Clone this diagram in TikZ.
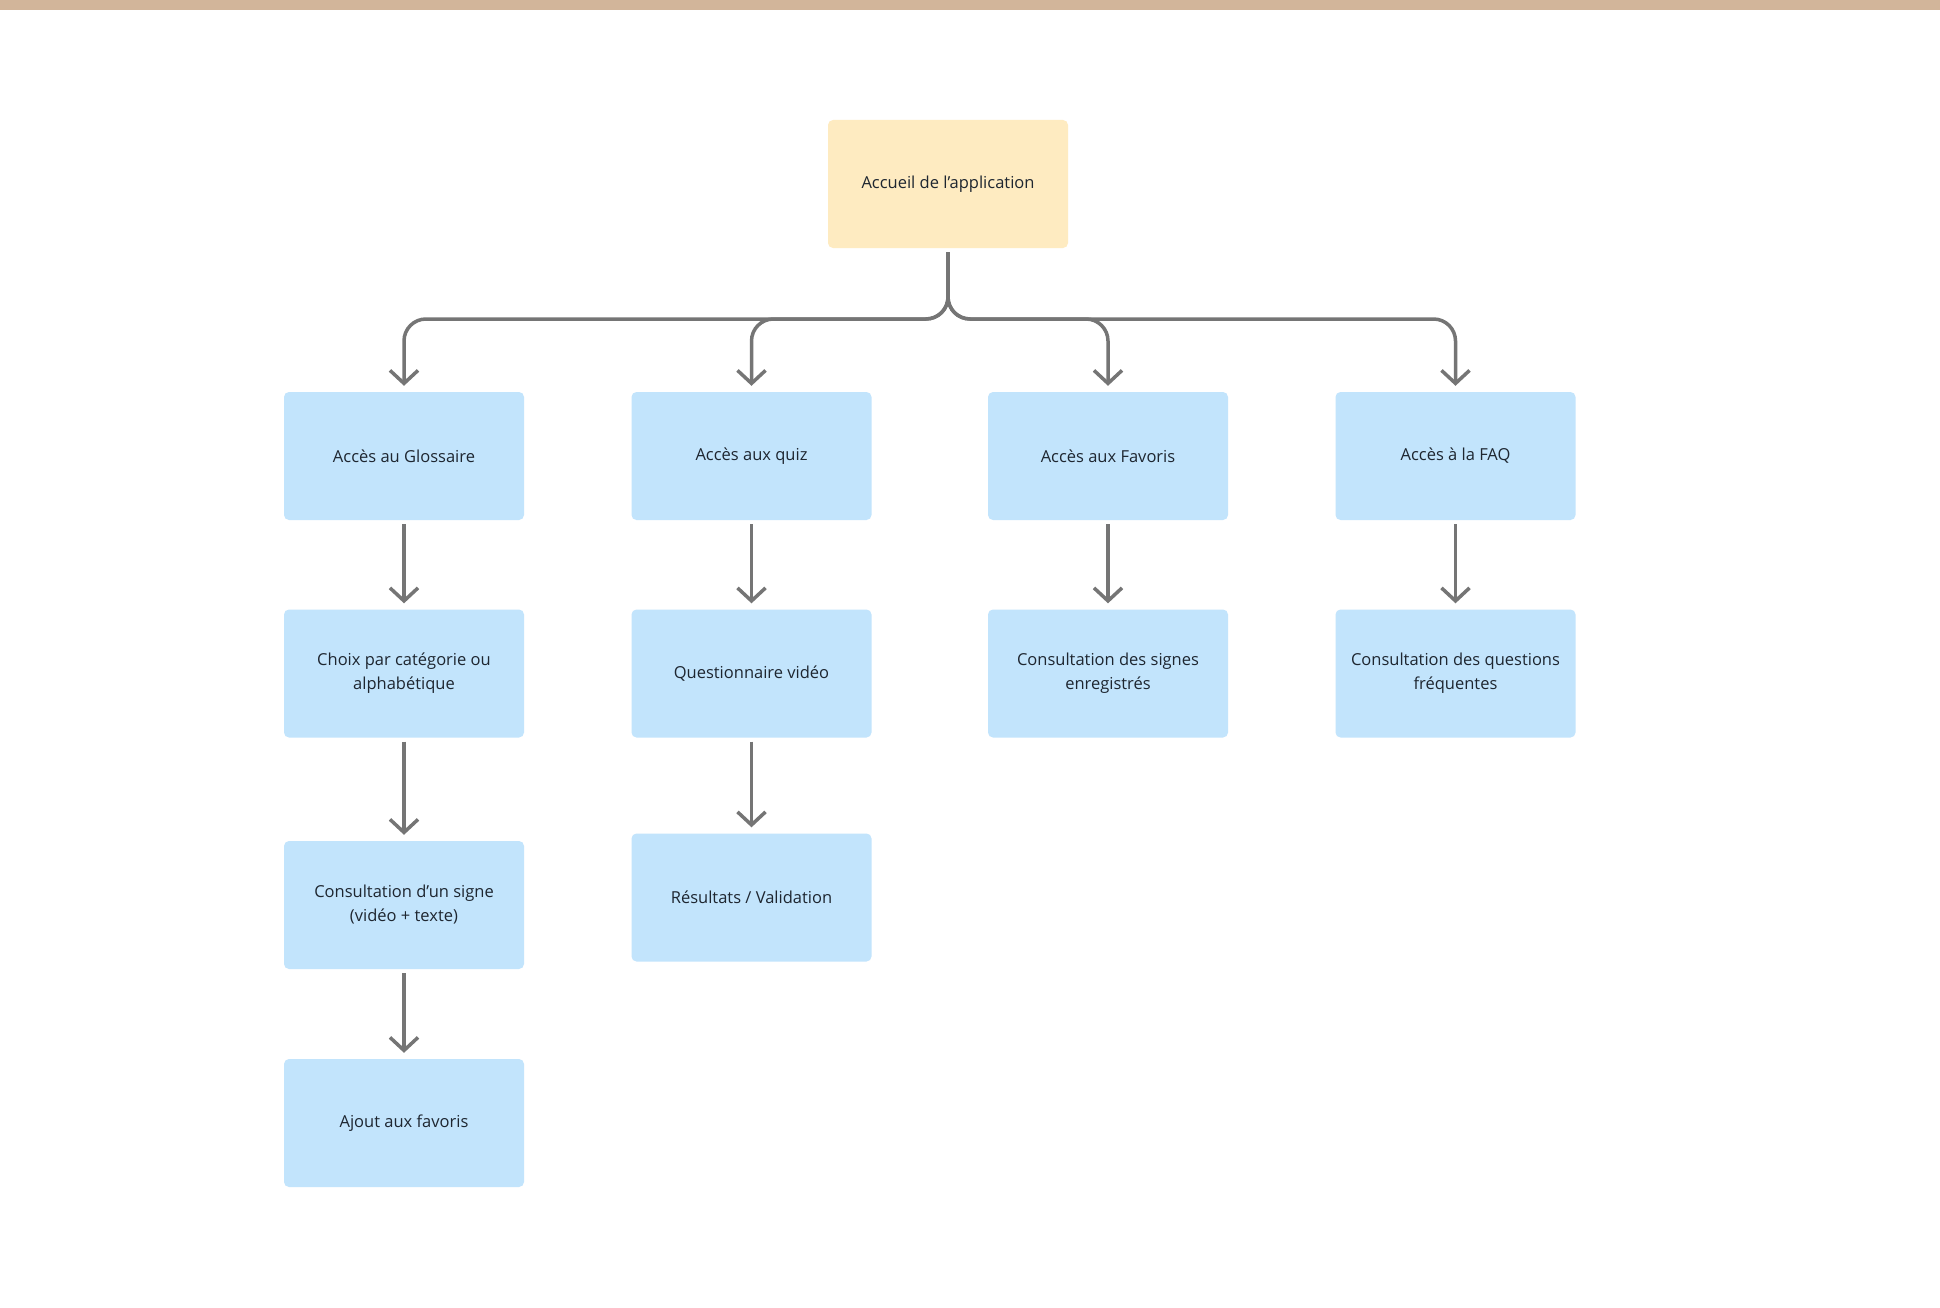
\documentclass[tikz,border=0pt]{standalone}
\usepackage{fontspec}
\setmainfont{Open Sans}
\usetikzlibrary{arrows.meta}
\definecolor{barre}{RGB}{210,181,154}
\definecolor{jaune}{RGB}{254,235,193}
\definecolor{bleu}{RGB}{194,228,252}
\definecolor{fleche}{RGB}{117,117,117}
\definecolor{texte}{RGB}{30,38,48}

\begin{document}
\begin{tikzpicture}[x=1pt,y=-1pt,
    boite/.style={rounded corners=5pt,fill=bleu,minimum width=240pt,minimum height=128pt,
      align=center,text=texte,font=\fontsize{16.5}{24}\selectfont},
    accueil/.style={boite,fill=jaune},
    lien/.style={draw=fleche,line width=3.5pt,rounded corners=22pt,shorten <=4pt,shorten >=6pt,
      -{Straight Barb[length=13pt,width=28pt]}}]
  \useasboundingbox (0,0) rectangle (1940,1308);
  \fill[white] (0,0) rectangle (1940,1308);
  \fill[barre] (0,0) rectangle (1940,10);

  % racine
  \node[accueil] (root) at (948,184) {Accueil de l’application};
  \coordinate (bus) at (948,319);

  % premier niveau
  \node[boite] (gl) at (404,456) {Accès au Glossaire};
  \node[boite] (quiz) at (751.5,456) {Accès aux quiz};
  \node[boite] (fav) at (1108,456) {Accès aux Favoris};
  \node[boite] (faq) at (1455.5,456) {Accès à la FAQ};

  % deuxieme niveau
  \node[boite] (cat) at (404,673.5) {Choix par catégorie ou\\alphabétique};
  \node[boite] (qv) at (751.5,673.5) {Questionnaire vidéo};
  \node[boite] (sig) at (1108,673.5) {Consultation des signes\\enregistrés};
  \node[boite] (qf) at (1455.5,673.5) {Consultation des questions\\fréquentes};

  % suite
  \node[boite] (cons) at (404,905) {Consultation d’un signe\\(vidéo + texte)};
  \node[boite] (res) at (751.5,897.5) {Résultats / Validation};
  \node[boite] (ajout) at (404,1123) {Ajout aux favoris};

  \foreach \c in {gl,quiz,fav,faq}
    \draw[lien] (root) -- (bus) -| (\c);
  \draw[lien] (gl) -- (cat);
  \draw[lien] (cat) -- (cons);
  \draw[lien] (cons) -- (ajout);
  \draw[lien] (quiz) -- (qv);
  \draw[lien] (qv) -- (res);
  \draw[lien] (fav) -- (sig);
  \draw[lien] (faq) -- (qf);
\end{tikzpicture}
\end{document}
